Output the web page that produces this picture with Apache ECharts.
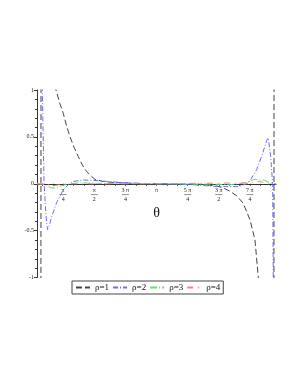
<!DOCTYPE html>
<html>
<head>
<meta charset="utf-8">
<script src="https://cdn.jsdelivr.net/npm/echarts@6/dist/echarts.min.js"></script>
<style>html,body{margin:0;padding:0;background:#fff}#c{width:298px;height:385px}</style>
</head>
<body>
<div id="c"></div>
<script>
// theta in radians (clipped to [-1,1] by the axis)
var rho1Theta  = [0.126, 0.220, 0.232, 0.40, 0.50, 0.605, 0.70, 0.790, 0.87, 0.959, 1.06, 1.168, 1.27, 1.380, 1.59, 1.80, 2.00, 2.50, 3.14, 3.80, 4.24, 4.617, 4.80, 4.996, 5.17, 5.332, 5.501, 5.627, 5.71, 5.85, 6.100, 6.112, 6.157];
var rho1Values = [-6, -6, 6, 2.0, 1.4, 1.0, 0.86, 0.75, 0.62, 0.50, 0.39, 0.29, 0.20, 0.13, 0.045, 0.025, 0.015, 0.005, 0.0, -0.003, -0.006, -0.02, -0.04, -0.08, -0.13, -0.21, -0.385, -0.60, -1.0, -2.0, -6, 6, 6];

var rho2Theta  = [0.126, 0.20, 0.26, 0.303, 0.35, 0.391, 0.44, 0.497, 0.623, 0.790, 0.916, 1.042, 1.294, 1.589, 1.885, 2.22, 2.70, 3.14, 3.60, 4.00, 4.66, 5.20, 5.458, 5.67, 5.80, 5.922, 5.962, 6.02, 6.073, 6.090, 6.157];
var rho2Values = [10, 3.0, 1.0, 0.02, -0.33, -0.49, -0.44, -0.35, -0.2, -0.064, -0.01, 0.025, 0.04, 0.035, 0.025, 0.014, 0.005, 0.0, -0.004, -0.008, -0.03, -0.03, 0.005, 0.15, 0.30, 0.46, 0.49, 0.30, 0.0, -1.2, -10];

var rho3Theta  = [0.126, 0.25, 0.35, 0.50, 0.60, 0.75, 0.95, 1.20, 1.60, 3.14, 4.60, 5.00, 5.40, 5.60, 5.85, 6.00, 6.157];
var rho3Values = [0.0, 0.0, -0.02, -0.045, -0.045, -0.02, 0.0, 0.01, 0.005, 0.0, -0.005, -0.01, 0.01, 0.045, 0.04, 0.01, 0.0];

var rho4Theta  = [0.126, 0.40, 0.55, 0.70, 0.90, 3.14, 5.50, 5.65, 5.80, 5.95, 6.157];
var rho4Values = [0.0, -0.01, -0.02, -0.01, 0.0, 0.0, 0.01, 0.025, 0.02, 0.0, 0.0];

var seriesNames = ['ρ=1', 'ρ=2', 'ρ=3', 'ρ=4'];
var seriesColors = ['#444444', '#6b6bff', '#66e066', '#ff7f7f'];
var seriesDashes = [[6, 3], [5, 2, 1, 2], [7, 2, 1, 2], [6, 5, 1, 5]];
var xTickMultiples = [1, 2, 3, 4, 5, 6, 7];           // multiples of π/4
var xTickNumerators = ['π', 'π', '3 π', 'π', '5 π', '3 π', '7 π'];
var xTickDenominators = ['4', '2', '4', '', '4', '2', '4'];

function pairs(t, v) { return t.map(function (x, i) { return [x, v[i]]; }); }

var majorVals = xTickMultiples.map(function (k) { return Math.PI * k / 4; });
var minorVals = [];
for (var k = 1; k < 24; k++) minorVals.push(Math.PI * k / 12);

var chart = echarts.init(document.getElementById('c'), null, {renderer: 'canvas'});
var serif = '"Liberation Serif", "DejaVu Serif", serif';

var gridTop = 90, gridBottom = 107.5, H = 385;
var zeroOffset = -((H - gridBottom) - (gridTop + (H - gridBottom)) / 2); // move x axis up to y=0

function mkSeries(i, data) {
  return {
    name: seriesNames[i], type: 'line', data: data, symbol: 'none', showSymbol: false,
    clip: true, smooth: false, z: 3,
    lineStyle: {color: seriesColors[i], width: 1, type: seriesDashes[i]},
    itemStyle: {color: seriesColors[i]}
  };
}

chart.setOption({
  animation: false,
  backgroundColor: '#fff',
  grid: {left: 37, right: 22, top: gridTop, bottom: gridBottom, containLabel: false},
  legend: {
    left: 72, top: 281, orient: 'horizontal',
    borderColor: '#444', borderWidth: 1, padding: [2, 3],
    itemWidth: 14, itemHeight: 8, itemGap: 3,
    itemStyle: {opacity: 0},
    textStyle: {fontFamily: serif, fontSize: 9, color: '#111'},
    data: seriesNames
  },
  xAxis: {
    type: 'value', min: 0.126, max: 6.157, position: 'bottom', offset: zeroOffset,
    name: 'θ', nameLocation: 'middle', nameGap: 23,
    nameTextStyle: {fontFamily: serif, fontSize: 14, color: '#111'},
    axisLine: {onZero: false, lineStyle: {color: '#333', width: 1}},
    axisTick: {show: true, customValues: minorVals, length: 2, lineStyle: {color: '#333'}},
    splitLine: {show: false},
    axisLabel: {
      customValues: majorVals, margin: 4, color: '#222', fontFamily: serif, fontSize: 6,
      formatter: function (val) {
        var idx = -1;
        for (var i = 0; i < majorVals.length; i++) if (Math.abs(majorVals[i] - val) < 1e-6) idx = i;
        if (idx < 0) return '';
        if (!xTickDenominators[idx]) return '{n|' + xTickNumerators[idx] + '}';
        return '{n|' + xTickNumerators[idx] + '}\n{b|\u00a0}\n{d|' + xTickDenominators[idx] + '}';
      },
      rich: {
        n: {fontFamily: serif, fontSize: 6, lineHeight: 6, color: '#222', align: 'center'},
        b: {width: 7, height: 0.6, lineHeight: 2, backgroundColor: '#444', fontSize: 1, align: 'center'},
        d: {fontFamily: serif, fontSize: 6, lineHeight: 7, color: '#222', align: 'center'}
      }
    }
  },
  yAxis: {
    type: 'value', min: -1, max: 1, interval: 0.5,
    axisLine: {show: true, onZero: false, lineStyle: {color: '#333', width: 1}},
    axisTick: {show: true, length: 3, lineStyle: {color: '#333'}},
    minorTick: {show: true, splitNumber: 5, length: 2, lineStyle: {color: '#333'}},
    splitLine: {show: false},
    axisLabel: {margin: 3, color: '#222', fontFamily: serif, fontSize: 6}
  },
  series: [
    mkSeries(0, pairs(rho1Theta, rho1Values)),
    mkSeries(1, pairs(rho2Theta, rho2Values)),
    mkSeries(2, pairs(rho3Theta, rho3Values)),
    mkSeries(3, pairs(rho4Theta, rho4Values))
  ]
});
</script>
</body>
</html>
